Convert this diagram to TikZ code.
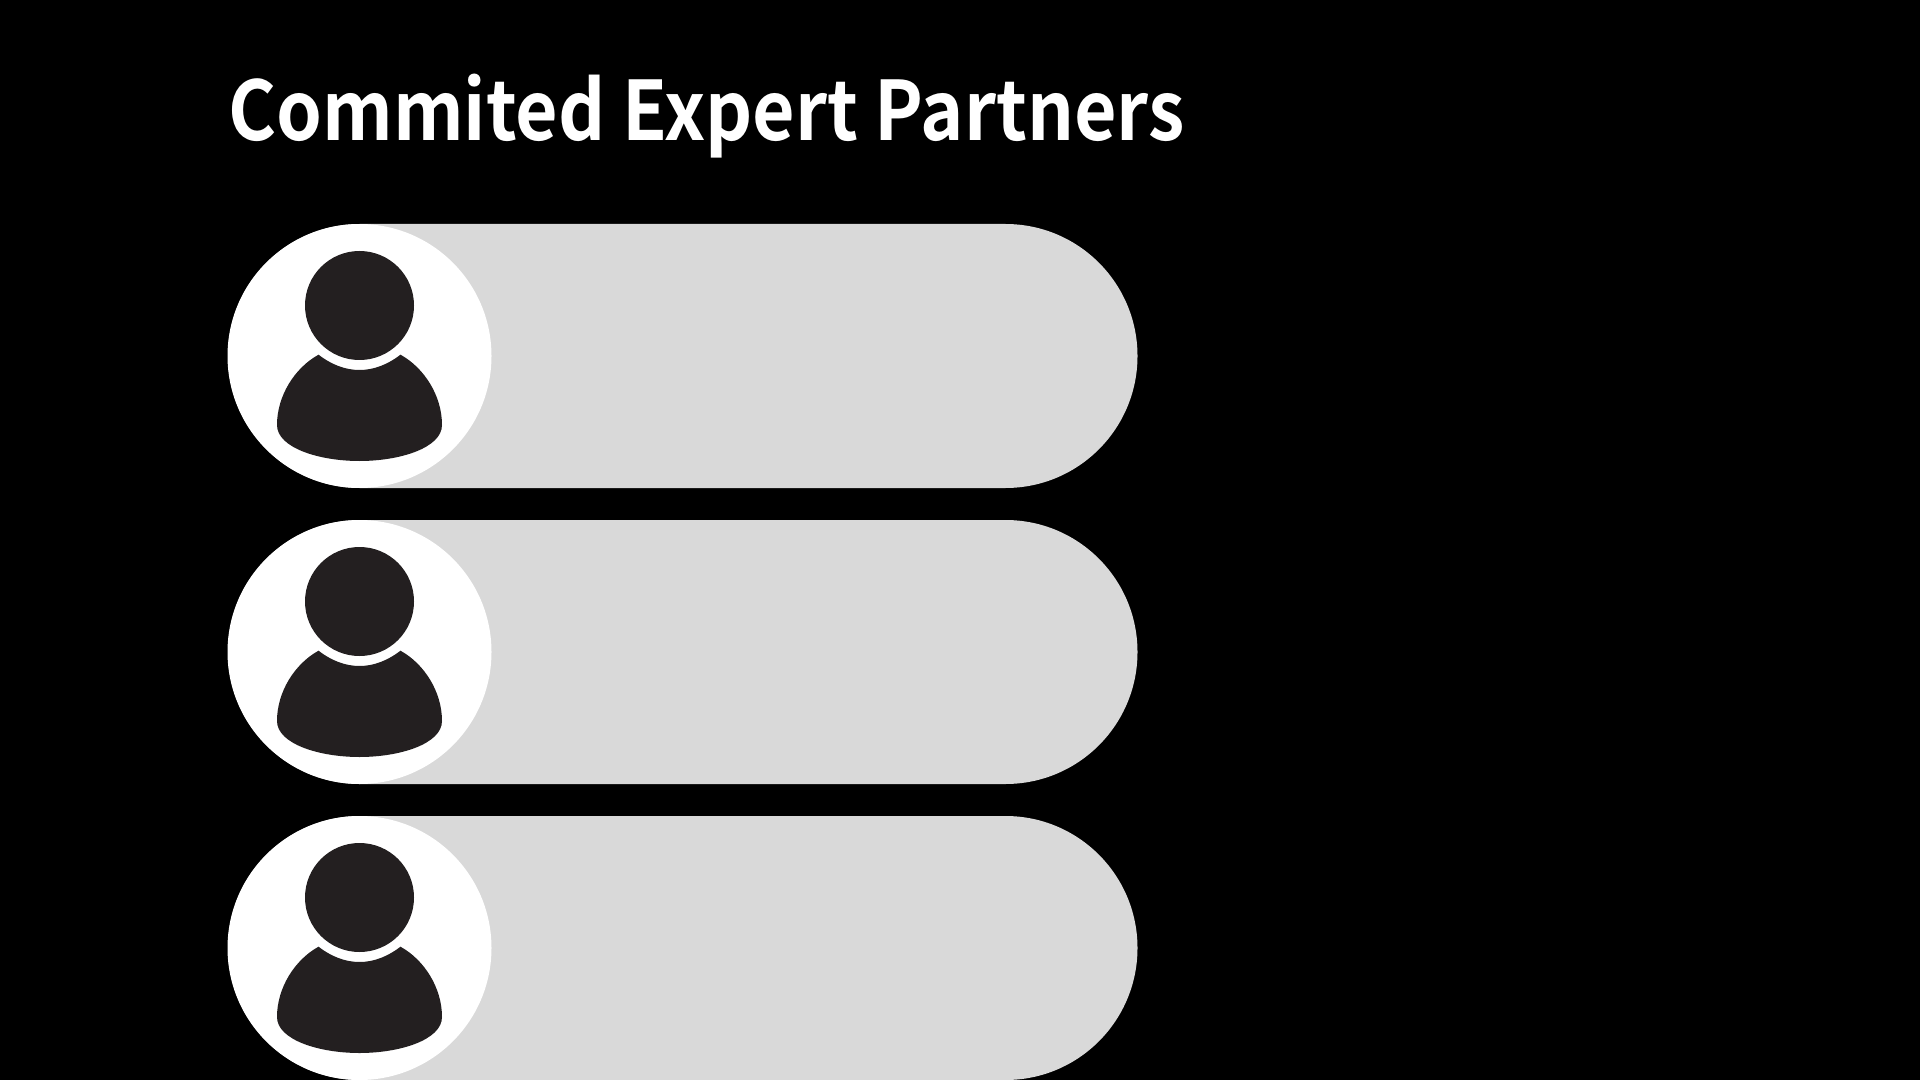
\documentclass[tikz,border=0pt]{standalone}
\usepackage{fontspec}
\newfontfamily\titlefont[FakeStretch=0.895]{Noto Sans CJK SC Bold}
\definecolor{pillgrey}{HTML}{D9D9D9}
\definecolor{icondark}{HTML}{231F20}
\tikzset{
  pill/.style={fill=pillgrey,rounded corners=66pt},
  disc/.style={fill=white},
  person/.style={fill=icondark},
  titletext/.style={text=white,inner sep=0pt,anchor=base west,font=\titlefont\fontsize{41}{41}\selectfont}
}
\begin{document}
\begin{tikzpicture}[x=0.5pt,y=-0.5pt]
\useasboundingbox (0,0) rectangle (1920,1080);
\fill[black] (0,0) rectangle (1920,1080);
\node[titletext] (title) at (228,140.5) {Commited Expert Partners};
\foreach \cy in {356,652,948}{
  \begin{scope}[shift={(359.5,\cy)}]
    \path[pill] (-131.5,-132) rectangle (778,132);
    \path[disc] (0,0) circle[radius=132];
    \path[person] (0,-50.5) circle[radius=54.5];
    \path[person] (-41,-1.3) .. controls (-65,12) and (-82.5,40) .. (-82.5,69)
      .. controls (-82.5,92) and (-40,105) .. (0,105)
      .. controls (40,105) and (82.5,92) .. (82.5,69)
      .. controls (82.5,40) and (65,12) .. (41,-1.3)
      .. controls (29,8) and (15,14) .. (0,14)
      .. controls (-15,14) and (-29,8) .. (-41,-1.3) -- cycle;
  \end{scope}
}
\end{tikzpicture}
\end{document}
